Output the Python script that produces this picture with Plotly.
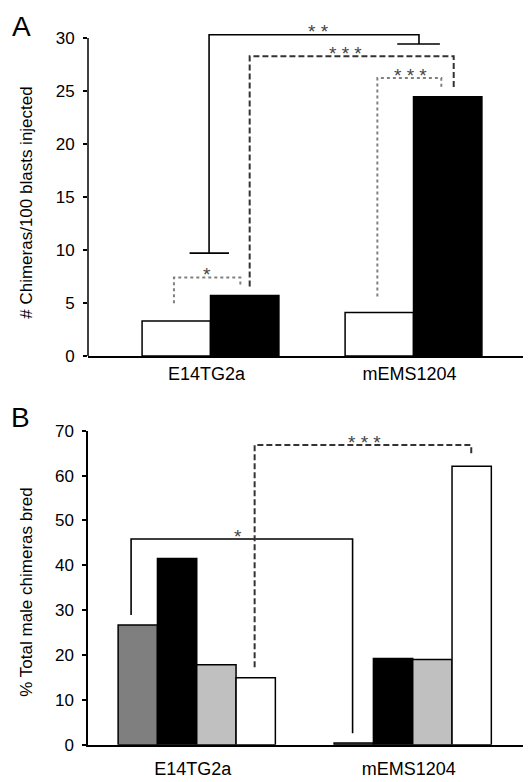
import plotly.graph_objects as go
from plotly.subplots import make_subplots

# ---------------- data ----------------
categories = ["E14TG2a", "mEMS1204"]
cat_pos = [0, 1]

# Panel A: # Chimeras / 100 blasts injected
a_open = [3.31, 4.10]
a_filled = [5.70, 24.46]
a_ticks = [0, 5, 10, 15, 20, 25, 30]

# Panel B: % total male chimeras bred
b_dark = [26.7, 0.4]
b_black = [41.5, 19.2]
b_light = [17.8, 19.0]
b_white = [14.9, 62.1]
b_ticks = [0, 10, 20, 30, 40, 50, 60, 70]

# significance brackets: (x_left, y_left_end, x_right, y_right_end, y_top, style, label, label_x)
a_brackets = [
    (-0.007, 9.70, 1.027, 29.43, 30.31, "solid", "* *", 0.53),
    (0.193, 6.55, 1.198, 25.12, 28.27, "dash", "* * *", 0.665),
    (0.822, 5.61, 1.137, 25.21, 26.22, "dot", "* * *", 0.985),
    (-0.180, 4.98, 0.147, 6.55, 7.40, "dot", "*", -0.017),
]
# caps on the solid bracket of panel A: (x_center, half_width, y)
a_caps = [(-0.006, 0.097, 9.70), (1.025, 0.105, 29.43)]

b_brackets = [
    (-0.304, 28.9, 0.7216, 2.53, 45.85, "solid", "*", 0.193),
    (0.268, 17.25, 1.271, 64.3, 66.8, "dash", "* * *", 0.776),
]

FONT = "Liberation Sans, Arial, sans-serif"
STYLE = {
    "solid": dict(color="black", width=1.6, dash="solid"),
    "dash": dict(color="#333333", width=2, dash="6px,3px"),
    "dot": dict(color="#808080", width=2, dash="dot"),
}

fig = make_subplots(rows=2, cols=1, vertical_spacing=0.05)

# ---------- Panel A bars ----------
wA = 0.337
fig.add_trace(go.Bar(x=cat_pos, y=a_open, width=wA, offset=-wA,
                     marker=dict(color="white", line=dict(color="black", width=1.5)),
                     showlegend=False), row=1, col=1)
fig.add_trace(go.Bar(x=cat_pos, y=a_filled, width=wA, offset=0,
                     marker=dict(color="black", line=dict(color="black", width=1.5)),
                     showlegend=False), row=1, col=1)

# ---------- Panel B bars ----------
wB = 0.182
b_series = [(b_dark, "#7f7f7f"), (b_black, "black"), (b_light, "#c0c0c0"), (b_white, "white")]
for i, (vals, col) in enumerate(b_series):
    fig.add_trace(go.Bar(x=cat_pos, y=vals, width=wB, offset=-2 * wB + i * wB,
                         marker=dict(color=col, line=dict(color="black", width=1.5)),
                         showlegend=False), row=2, col=1)

annotations = []


def add_bracket(br, row, xref, yref):
    xl, yl, xr, yr, yt, style, label, lx = br
    fig.add_trace(go.Scatter(x=[xl, xl, xr, xr], y=[yl, yt, yt, yr], mode="lines",
                             line=STYLE[style], hoverinfo="skip", showlegend=False),
                  row=row, col=1)
    annotations.append(dict(x=lx, y=yt, xref=xref, yref=yref, text=label,
                            showarrow=False, yanchor="middle", xanchor="center", yshift=3,
                            font=dict(family=FONT, size=19, color="#444444")))


for br in a_brackets:
    add_bracket(br, 1, "x", "y")
for xc, hw, yc in a_caps:
    fig.add_trace(go.Scatter(x=[xc - hw, xc + hw], y=[yc, yc], mode="lines",
                             line=STYLE["solid"], hoverinfo="skip", showlegend=False),
                  row=1, col=1)
for br in b_brackets:
    add_bracket(br, 2, "x2", "y2")

# panel letters and y titles (paper x is measured from the left margin)
LM = 80
PW = 531 - LM
annotations.append(dict(x=(13 - LM) / PW, y=1, xref="paper", yref="paper", text="A",
                        showarrow=False, xanchor="center", yanchor="top", yshift=-1,
                        font=dict(family=FONT, size=28, color="black")))
annotations.append(dict(x=(12 - LM) / PW, y=0.5, xref="paper", yref="paper", text="B",
                        showarrow=False, xanchor="center", yanchor="top", yshift=-1,
                        font=dict(family=FONT, size=28, color="black")))
annotations.append(dict(x=(19 - LM) / PW, y=0.5, xref="paper", yref="y domain",
                        text="# Chimeras/100 blasts injected", textangle=-90,
                        showarrow=False, xanchor="center", yanchor="middle", yshift=-10,
                        font=dict(family=FONT, size=17, color="black")))
annotations.append(dict(x=(19 - LM) / PW, y=0.5, xref="paper", yref="y2 domain",
                        text="% Total male chimeras bred", textangle=-90,
                        showarrow=False, xanchor="center", yanchor="middle", yshift=-5,
                        font=dict(family=FONT, size=17, color="black")))

# y-axis line of panel A drawn only up to its top tick
shapes = [dict(type="line", xref="x domain", x0=0, x1=0, yref="y", y0=0, y1=a_ticks[-1],
               line=dict(color="black", width=1.5))]

axis_common = dict(showgrid=False, zeroline=False, color="black")

fig.update_layout(
    template="none",
    width=531, height=782,
    margin=dict(l=LM, r=0, t=0, b=0),
    paper_bgcolor="white", plot_bgcolor="white",
    barmode="overlay",
    font=dict(family=FONT, color="black"),
    annotations=annotations,
    shapes=shapes,
    xaxis=dict(domain=[0, 1], range=[-0.6034, 1.6182], tickvals=cat_pos, ticktext=categories,
               showline=True, linecolor="black", linewidth=1.5, ticks="",
               tickfont=dict(family=FONT, size=18), ticklabelstandoff=1, ticklabelshift=-4,
               **axis_common),
    yaxis=dict(domain=[1 - 348 / 782, 1 - 21.5 / 782], range=[0, 30.8], tickvals=a_ticks,
               showline=False, ticks="outside", ticklen=4, tickwidth=1.5, tickcolor="black",
               tickfont=dict(family=FONT, size=17), ticklabelstandoff=5,
               **axis_common),
    xaxis2=dict(domain=[0, 1], range=[-0.5035, 1.5847], tickvals=cat_pos, ticktext=categories,
                showline=True, linecolor="black", linewidth=1.5, ticks="",
                tickfont=dict(family=FONT, size=18), ticklabelstandoff=7, ticklabelshift=-4,
                **axis_common),
    yaxis2=dict(domain=[1 - 736.7 / 782, 1 - 422.7 / 782], range=[0, 70], tickvals=b_ticks,
                showline=True, linecolor="black", linewidth=1.5,
                ticks="outside", ticklen=4, tickwidth=1.5, tickcolor="black",
                tickfont=dict(family=FONT, size=17), ticklabelstandoff=5,
                **axis_common),
)

fig.write_html("out.html")
